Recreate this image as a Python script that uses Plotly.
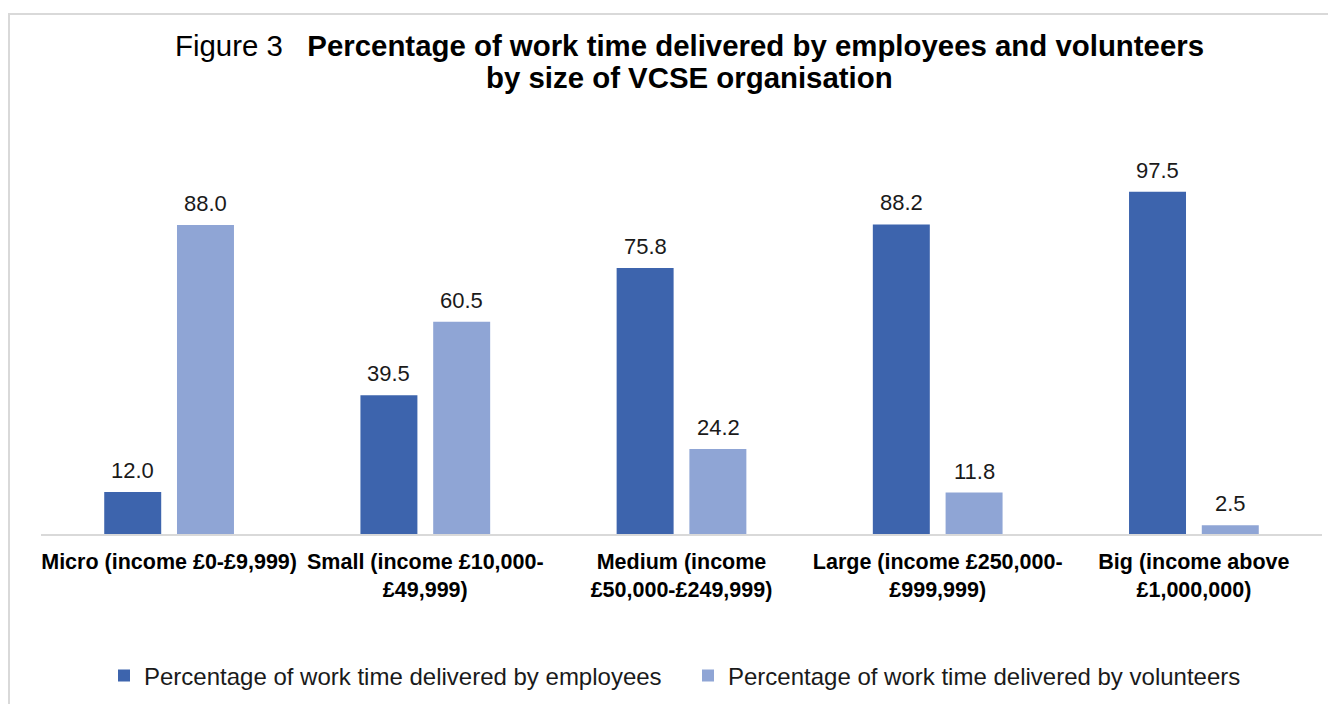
import plotly.graph_objects as go

categories = [
    "Micro (income £0-£9,999)",
    "Small (income £10,000-<br>£49,999)",
    "Medium (income<br>£50,000-£249,999)",
    "Large (income £250,000-<br>£999,999)",
    "Big (income above<br>£1,000,000)",
]
employees = [12.0, 39.5, 75.8, 88.2, 97.5]
volunteers = [88.0, 60.5, 24.2, 11.8, 2.5]
series_names = [
    "Percentage of work time delivered by employees",
    "Percentage of work time delivered by volunteers",
]
title_lines = [
    "Figure 3   <b>Percentage of work time delivered by employees and volunteers</b>",
    "<b>by size of VCSE organisation</b>",
]
colors = ["#3D64AD", "#8FA5D5"]
FONT = "Liberation Sans, Arial, sans-serif"

# figure-pixel geometry (page is offset by 8px body margin)
L, R, T, B = 33, 22, 175, 178
W, H = 1336, 704
PW, PH = W - L - R, H - T - B

def px_x(fx):
    return (fx - L) / PW

def px_y(fy):
    return (H - B - fy) / PH

fig = go.Figure()
for name, vals, col in zip(series_names, [employees, volunteers], colors):
    fig.add_trace(go.Bar(x=categories, y=vals, name=name, marker_color=col,
                         marker_line_width=0))

annotations = []
for vals, shift in [(employees, -36.5), (volunteers, 36.5)]:
    for c, v in zip(categories, vals):
        annotations.append(dict(x=c, y=v, xref="x", yref="y", text=f"{v:.1f}",
                                showarrow=False, xshift=shift, yanchor="bottom",
                                yshift=7, font=dict(family=FONT, size=22, color="#1a1a1a")))

for line, fy in zip(title_lines, [37, 69]):
    annotations.append(dict(x=px_x(681), y=px_y(fy), xref="paper", yref="paper",
                            text=line, showarrow=False, xanchor="center", yanchor="middle",
                            font=dict(family=FONT, size=29.4, color="#000000")))

fig.add_shape(type="rect", xref="paper", yref="paper",
              x0=px_x(1), x1=px_x(1361), y0=px_y(900), y1=px_y(6),
              line=dict(color="#d9d9d9", width=2), fillcolor="rgba(0,0,0,0)", layer="below")

fig.update_layout(
    width=W, height=H,
    paper_bgcolor="white", plot_bgcolor="white",
    margin=dict(l=L, r=R, t=T, b=B),
    barmode="group", bargap=0.432, bargroupgap=0.217,
    font=dict(family=FONT, color="#1a1a1a"),
    xaxis=dict(showline=True, linecolor="#d9d9d9", linewidth=2, ticks="",
               tickfont=dict(family=FONT, size=21.5, color="#000000", weight="bold"),
               ticklabelstandoff=7),
    yaxis=dict(range=[0, 100], visible=False, showgrid=False, zeroline=False),
    legend=dict(orientation="h", xref="container", yref="container",
                x=96/W, xanchor="left", y=36/H, yanchor="middle",
                font=dict(family=FONT, size=24, color="#1a1a1a"),
                itemwidth=30, entrywidth=539),
    showlegend=True,
    annotations=annotations,
)

fig.write_html("out.html")
